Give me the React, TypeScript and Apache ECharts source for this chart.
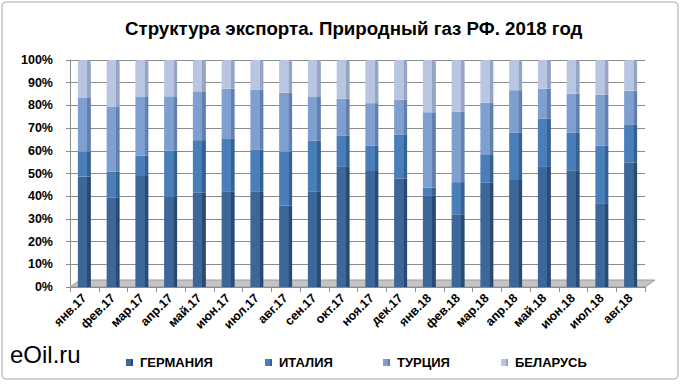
import React, { useEffect, useRef } from "react";
import * as echarts from "echarts";

const categories = [
  "янв.17", "фев.17", "мар.17", "апр.17", "май.17", "июн.17", "июл.17", "авг.17", "сен.17", "окт.17",
  "ноя.17", "дек.17", "янв.18", "фев.18", "мар.18", "апр.18", "май.18", "июн.18", "июл.18", "авг.18",
];
const germany = [48.6, 39.3, 48.9, 39.7, 41.5, 42.2, 42.2, 35.9, 41.9, 52.9, 51.1, 47.7, 40.4, 32.1, 45.9, 47.1, 52.9, 51.4, 36.6, 54.8];
const italy = [11.0, 11.5, 8.9, 20.3, 23.2, 23.3, 18.4, 23.7, 22.5, 13.9, 11.1, 19.3, 3.3, 14.1, 12.6, 20.8, 21.2, 16.5, 25.6, 16.6];
const turkey = [23.7, 28.5, 25.9, 24.0, 21.5, 21.9, 26.4, 26.0, 19.3, 16.2, 18.8, 15.5, 33.3, 31.1, 22.7, 18.8, 13.3, 17.3, 22.5, 15.0];
const belarus = [16.7, 20.7, 16.3, 16.0, 13.8, 12.6, 13.0, 14.4, 16.3, 17.0, 19.0, 17.5, 23.0, 22.7, 18.8, 13.3, 12.6, 14.8, 15.3, 13.6];
const seriesNames = ["ГЕРМАНИЯ", "ИТАЛИЯ", "ТУРЦИЯ", "БЕЛАРУСЬ"];
const yTicks = [0, 10, 20, 30, 40, 50, 60, 70, 80, 90, 100];

const palette = [
  { front: "#3D6699", side: "#294b73", marker: "#3D6699" },
  { front: "#4A7EBB", side: "#36628f", marker: "#4A7EBB" },
  { front: "#7E9FCF", side: "#6280ad", marker: "#7E9FCF" },
  { front: "#B8C6E1", side: "#93a4c4", marker: "#B8C6E1" },
];

const grad = (c: { front: string; side: string }) =>
  new echarts.graphic.LinearGradient(0, 0, 1, 0, [
    { offset: 0, color: c.front },
    { offset: 0.72, color: c.front },
    { offset: 0.73, color: c.side },
    { offset: 1, color: c.side },
  ]);

const FONT = "'Liberation Sans', Arial, sans-serif";

export default function App() {
  const ref = useRef<HTMLDivElement>(null);
  useEffect(() => {
    document.body.style.margin = "0";
    if (!ref.current) return;
    const chart = echarts.init(ref.current, null, { renderer: "svg" });
    const dataSets = [germany, italy, turkey, belarus];
    const legendLefts = [121, 260, 378, 496];
    chart.setOption({
      animation: false,
      backgroundColor: "#ffffff",
      title: {
        text: "Структура экспорта. Природный газ РФ. 2018 год",
        left: 120,
        top: 14,
        textStyle: { fontFamily: FONT, fontSize: 18.7, fontWeight: "bold", color: "#000" },
      },
      legend: seriesNames.map((n, i) => ({
        data: [n],
        left: legendLefts[i],
        top: 351,
        itemWidth: 7,
        itemHeight: 7,
        itemGap: 4,
        icon: "rect",
        textStyle: { fontFamily: FONT, fontSize: 13, fontWeight: "bold", color: "#000", padding: [0, 0, 0, 2] },
      })),
      grid: { left: 70, right: 36, top: 60, bottom: 97, containLabel: false },
      xAxis: {
        type: "category",
        data: categories,
        axisLine: { show: true, lineStyle: { color: "#8c8c8c" } },
        axisTick: { show: true, length: 5, lineStyle: { color: "#8c8c8c" } },
        axisLabel: {
          rotate: 45,
          interval: 0,
          margin: 9,
          fontFamily: FONT,
          fontSize: 12.5,
          fontWeight: "bold",
          color: "#000",
        },
      },
      yAxis: {
        type: "value",
        min: 0,
        max: 100,
        interval: 10,
        axisLine: { show: true, lineStyle: { color: "#8c8c8c" } },
        axisTick: { show: true, length: 4, lineStyle: { color: "#8c8c8c" } },
        splitLine: { show: true, lineStyle: { color: "#8c8c8c" } },
        axisLabel: {
          margin: 17,
          fontFamily: FONT,
          fontSize: 12.5,
          fontWeight: "bold",
          color: "#000",
          formatter: (v: number) => (yTicks.includes(v) ? v + "%" : ""),
        },
      },
      graphic: [
        {
          type: "rect",
          shape: { x: 2, y: 2, width: 676, height: 377, r: 4 },
          style: { fill: "none", stroke: "#a6a6a6", lineWidth: 1 },
          silent: true,
        },
        {
          type: "polygon",
          shape: { points: [[70, 287], [80, 280], [655, 280], [645, 287]] },
          style: { fill: "#c4c4c4", stroke: "#9a9a9a", lineWidth: 1 },
          z: 0,
          silent: true,
        },
        {
          type: "text",
          left: 10,
          top: 342,
          style: { text: "eOil.ru", font: "24px 'Liberation Sans', Arial, sans-serif", fill: "#000" },
        },
      ],
      series: dataSets.map((d, i) => ({
        name: seriesNames[i],
        type: "bar",
        stack: "total",
        barWidth: 13,
        data: d,
        z: 3,
        itemStyle: {
          color: grad(palette[i]),
          borderRadius: i === 3 ? [3, 3, 0, 0] : 0,
        },
      })),
      color: palette.map((p) => p.marker),
    });
    return () => chart.dispose();
  }, []);
  return <div ref={ref} style={{ width: 681, height: 384 }} />;
}
